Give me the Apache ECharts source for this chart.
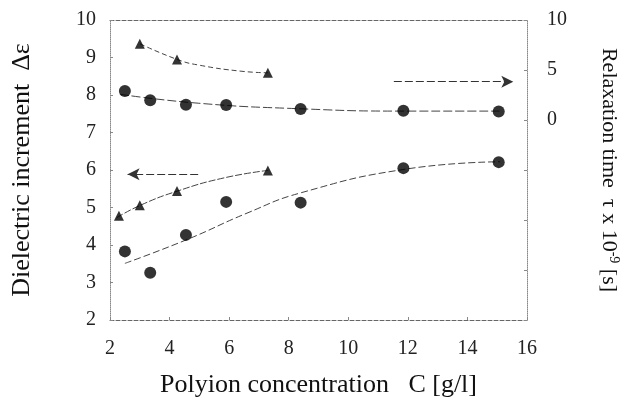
<!DOCTYPE html>
<html><head><meta charset="utf-8">
<script src="https://cdn.jsdelivr.net/npm/echarts@6/dist/echarts.min.js"></script>
<style>html,body{margin:0;padding:0;background:#fff}#c{width:629px;height:403px}</style>
</head><body><div id="c"></div>
<script>
// axis ranges / ticks
const xTicks = [2, 4, 6, 8, 10, 12, 14, 16];
const leftTicks = [2, 3, 4, 5, 6, 7, 8, 9, 10];
const rightTicks = [-20, -15, -10, -5, 0, 5, 10];
const rightShownLabels = [0, 5, 10];

// Dielectric increment (left axis)
const circDeltaX = [2.5, 3.35, 4.55, 5.9, 8.4, 11.85, 15.05];
const circDeltaY = [3.83, 3.26, 4.27, 5.15, 5.13, 6.05, 6.21];
const triDeltaX = [2.3, 3.0, 4.25, 7.3];
const triDeltaY = [4.78, 5.06, 5.44, 5.99];

// Relaxation time (right axis)
const circTauX = [2.5, 3.35, 4.55, 5.9, 8.4, 11.85, 15.05];
const circTauY = [2.9, 1.98, 1.53, 1.51, 1.09, 0.92, 0.86];
const triTauX = [3.0, 4.25, 7.3];
const triTauY = [7.62, 6.04, 4.72];

// fitted curves
const fitCircDeltaX = [2.5, 4.6, 6.6, 8.4, 11.9, 15.1];
const fitCircDeltaY = [3.51, 4.15, 4.85, 5.39, 6.02, 6.22];
const fitTriDeltaX = [2.23, 3.02, 4.27, 5.83, 7.31];
const fitTriDeltaY = [4.73, 5.06, 5.44, 5.79, 5.99];
const fitCircTauX = [2.33, 4.96, 8.24, 11.86, 15.08];
const fitCircTauY = [2.57, 1.68, 1.14, 0.89, 0.89];
const fitTriTauX = [3.01, 4.27, 5.0, 6.4, 7.3];
const fitTriTauY = [7.62, 6.04, 5.48, 4.88, 4.72];

// arrows
const leftArrowX = [4.96, 2.59];
const leftArrowY = 5.89;
const rightArrowX = [11.53, 15.54];
const rightArrowY = 3.83;

const zip = (xs, ys) => xs.map((x, i) => [x, ys[i]]);
const FONT = 'Liberation Serif';
const axisLineStyle = { color: '#666', width: 1, type: 'dashed' };

const chart = echarts.init(document.getElementById('c'), null, { renderer: 'canvas' });
const fitStyle = (t) => ({ color: '#444', width: 1, type: t });

chart.setOption({
  animation: false,
  backgroundColor: '#fff',
  grid: { left: 110, right: 93, top: 20, bottom: 80, containLabel: false },
  xAxis: [{
    type: 'value', min: xTicks[0], max: xTicks[xTicks.length - 1], interval: 2,
    name: 'Polyion concentration   C [g/l]', nameLocation: 'middle', nameGap: 52,
    nameTextStyle: { fontFamily: FONT, fontSize: 26, color: '#111' },
    axisLine: { show: true, onZero: false, lineStyle: axisLineStyle },
    axisTick: { show: true, inside: true, length: 3, lineStyle: { color: '#888' } },
    axisLabel: { fontFamily: FONT, fontSize: 20, color: '#222', margin: 19 },
    splitLine: { show: false }
  }, {
    type: 'value', position: 'top', min: xTicks[0], max: xTicks[xTicks.length - 1], interval: 2,
    axisLine: { show: true, onZero: false, lineStyle: axisLineStyle },
    axisTick: { show: false }, axisLabel: { show: false }, splitLine: { show: false }
  }],
  yAxis: [{
    type: 'value', min: leftTicks[0], max: leftTicks[leftTicks.length - 1], interval: 1,
    name: 'Dielectric increment  Δε', nameLocation: 'middle', nameGap: 75, nameRotate: 90,
    nameTextStyle: { fontFamily: FONT, fontSize: 26, color: '#111' },
    axisLine: { show: true, onZero: false, lineStyle: { color: '#888', width: 1, type: 'dotted' } },
    axisTick: { show: true, inside: true, length: 3, lineStyle: { color: '#888' } },
    axisLabel: { fontFamily: FONT, fontSize: 20, color: '#222', margin: 14 },
    splitLine: { show: false }
  }, {
    type: 'value', position: 'right', min: rightTicks[0], max: rightTicks[rightTicks.length - 1], interval: 5,
    name: 'Relaxation time  τ x 10{sup|-9} [s]', nameLocation: 'middle', nameGap: 70, nameRotate: -90,
    nameTextStyle: { fontFamily: FONT, fontSize: 22, color: '#111',
      rich: { sup: { fontFamily: FONT, fontSize: 14, verticalAlign: 'bottom', padding: [0, 0, 10, 0] } } },
    axisLine: { show: true, onZero: false, lineStyle: { color: '#888', width: 1, type: 'dotted' } },
    axisTick: { show: true, inside: true, length: 3, lineStyle: { color: '#888' } },
    axisLabel: { fontFamily: FONT, fontSize: 20, color: '#222', margin: 20,
      formatter: (v) => rightShownLabels.includes(v) ? String(v) : '' },
    splitLine: { show: false }
  }],
  series: [
    { type: 'line', data: zip(fitCircDeltaX, fitCircDeltaY), smooth: true, showSymbol: false, symbol: 'none',
      lineStyle: fitStyle([7, 3]), yAxisIndex: 0, z: 1 },
    { type: 'line', data: zip(fitTriDeltaX, fitTriDeltaY), smooth: true, showSymbol: false, symbol: 'none',
      lineStyle: fitStyle([7, 2]), yAxisIndex: 0, z: 1,
      markLine: { silent: true, symbol: ['none', 'arrow'], symbolSize: [9, 12],
        lineStyle: { color: '#333', width: 1, type: [8, 3] }, label: { show: false },
        data: [[{ coord: [leftArrowX[0], leftArrowY] }, { coord: [leftArrowX[1], leftArrowY] }]] } },
    { type: 'line', data: zip(fitCircTauX, fitCircTauY), smooth: true, showSymbol: false, symbol: 'none',
      lineStyle: fitStyle([9, 3]), yAxisIndex: 1, z: 1 },
    { type: 'line', data: zip(fitTriTauX, fitTriTauY), smooth: true, showSymbol: false, symbol: 'none',
      lineStyle: fitStyle([5, 3]), yAxisIndex: 1, z: 1,
      markLine: { silent: true, symbol: ['none', 'arrow'], symbolSize: [9, 12],
        lineStyle: { color: '#333', width: 1, type: [8, 3] }, label: { show: false },
        data: [[{ coord: [rightArrowX[0], rightArrowY] }, { coord: [rightArrowX[1], rightArrowY] }]] } },
    { type: 'scatter', data: zip(circDeltaX, circDeltaY), symbol: 'circle', symbolSize: 12,
      itemStyle: { color: '#000' }, yAxisIndex: 0, z: 3 },
    { type: 'scatter', data: zip(triDeltaX, triDeltaY), symbol: 'triangle', symbolSize: 10,
      itemStyle: { color: '#000' }, yAxisIndex: 0, z: 3 },
    { type: 'scatter', data: zip(circTauX, circTauY), symbol: 'circle', symbolSize: 12,
      itemStyle: { color: '#000' }, yAxisIndex: 1, z: 3 },
    { type: 'scatter', data: zip(triTauX, triTauY), symbol: 'triangle', symbolSize: 10,
      itemStyle: { color: '#000' }, yAxisIndex: 1, z: 3 }
  ]
});
</script>
</body></html>
